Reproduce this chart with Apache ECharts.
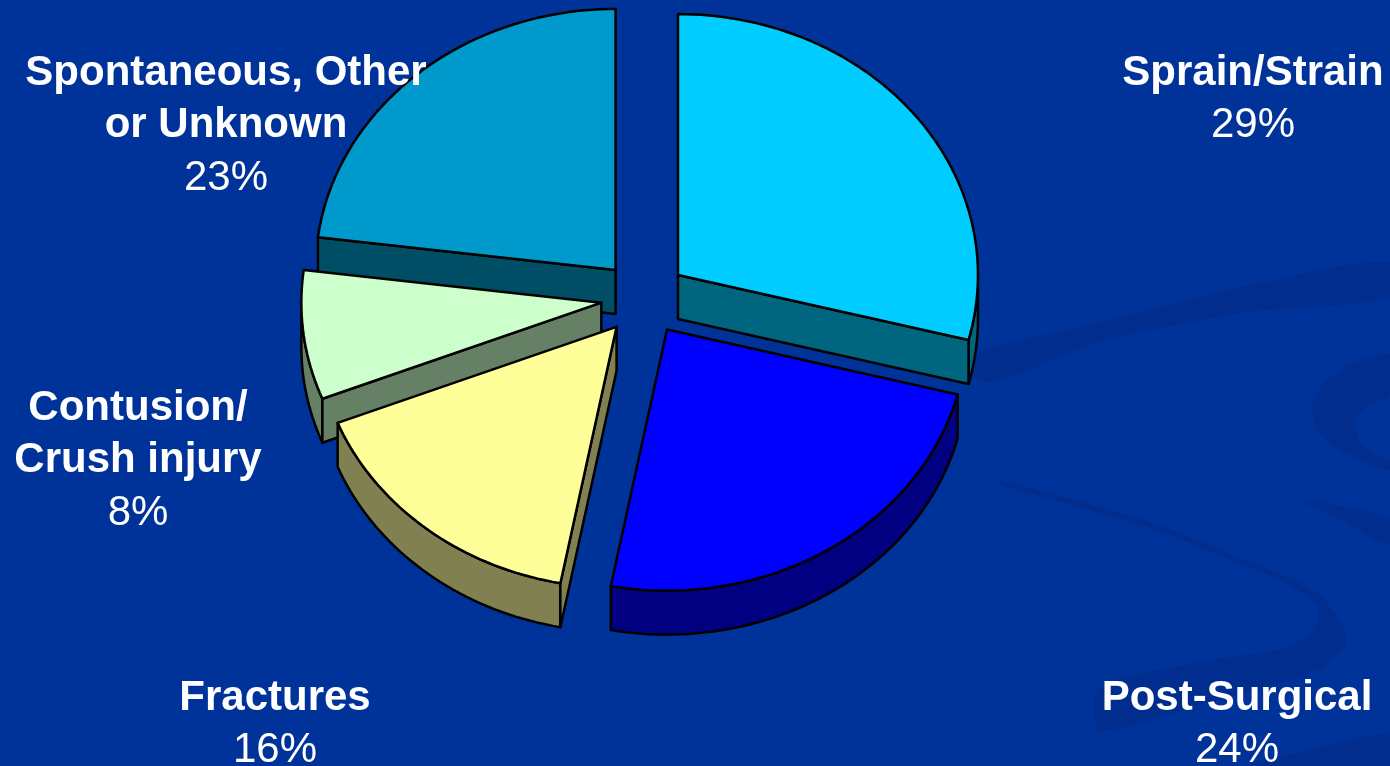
<!DOCTYPE html>
<html><head><meta charset="utf-8">
<script src="https://cdn.jsdelivr.net/npm/echarts@6/dist/echarts.min.js"></script>
<style>html,body{margin:0;padding:0;background:#003399;} #c{width:1390px;height:766px;}</style>
</head><body><div id="c"></div>
<script>
// ---- data ----
const categories = ['Sprain/Strain', 'Post-Surgical', 'Fractures', 'Contusion/\nCrush injury', 'Spontaneous, Other\nor Unknown'];
const values = [29, 24, 16, 8, 23];
const topColors = ['#00CCFF', '#0000FF', '#FFFF99', '#CCFFCC', '#0099CC'];
const sideColors = ['#006680', '#000080', '#808050', '#668066', '#004D66'];

// ---- layout ----
const CX = 644, CY = 298, RX = 300, RY = 261, DEPTH = 44, EXPLODE = 43;
const labelPos = [[1253, 85], [1237, 710], [275, 710], [138, 420], [226, 85]]; // first-line baseline
const LINE = 52.5, FS = 42, BASE_OFF = 12;
const FONT = '"Liberation Sans", Arial, sans-serif';

const total = values.reduce((a, b) => a + b, 0);

function renderItem(params, api) {
  const i = params.dataIndex;
  const v = api.value(0);
  let before = 0;
  for (let k = 0; k < i; k++) before += values[k];
  const a1 = before / total * 2 * Math.PI;
  const a2 = (before + v) / total * 2 * Math.PI;
  const mid = (a1 + a2) / 2;
  const vx = CX + EXPLODE * Math.sin(mid);
  const vy = CY - EXPLODE * (RY / RX) * Math.cos(mid);
  const P = t => [vx + RX * Math.sin(t), vy - RY * Math.cos(t)];
  const arc = (t1, t2) => {
    const n = Math.max(2, Math.ceil((t2 - t1) / (Math.PI / 120)));
    const out = [];
    for (let k = 0; k <= n; k++) out.push(P(t1 + (t2 - t1) * k / n));
    return out;
  };
  const down = p => [p[0], p[1] + DEPTH];
  const ls = { stroke: '#000', lineWidth: 2.5, lineJoin: 'round' };
  const base = Math.round(-Math.cos(mid) * 100) * 10 + 2000;
  const children = [];
  const w1 = Math.max(a1, Math.PI / 2), w2 = Math.min(a2, 1.5 * Math.PI);
  if (w2 > w1) {
    const t = arc(w1, w2);
    const b = t.map(down).reverse();
    children.push({ type: 'polygon', z2: base, shape: { points: t.concat(b) }, style: Object.assign({ fill: sideColors[i] }, ls) });
  }
  if (Math.sin(a1) < -1e-6) {
    const e = P(a1);
    children.push({ type: 'polygon', z2: base, shape: { points: [[vx, vy], e, down(e), [vx, vy + DEPTH]] }, style: Object.assign({ fill: sideColors[i] }, ls) });
  }
  if (Math.sin(a2) > 1e-6) {
    const e = P(a2);
    children.push({ type: 'polygon', z2: base, shape: { points: [[vx, vy], e, down(e), [vx, vy + DEPTH]] }, style: Object.assign({ fill: sideColors[i] }, ls) });
  }
  children.push({ type: 'polygon', z2: base + 1, shape: { points: [[vx, vy]].concat(arc(a1, a2)) }, style: Object.assign({ fill: topColors[i] }, ls) });
  return { type: 'group', children: children };
}

// background swooshes + labels
const graphics = [];
const swoosh = 'rgba(0,25,100,0.2)';
const swooshPts = [
  [[960, 360], [1100, 322], [1250, 285], [1390, 262], [1390, 297], [1250, 312], [1100, 342], [990, 382]],
  [[1390, 355], [1340, 370], [1313, 400], [1318, 432], [1350, 456], [1390, 470], [1390, 462], [1362, 445], [1356, 420], [1370, 404], [1390, 395]],
  [[1000, 480], [1150, 522], [1240, 558], [1317, 593], [1347, 637], [1333, 660], [1300, 677], [1200, 705], [1100, 730], [1100, 688], [1200, 662], [1287, 647], [1313, 630], [1318, 608], [1290, 585], [1240, 564], [1150, 528], [1000, 485]],
  [[1300, 500], [1350, 508], [1390, 520], [1390, 545], [1345, 522]],
  [[1250, 766], [1320, 748], [1390, 735], [1390, 766]]
];
swooshPts.forEach(p => graphics.push({ type: 'polygon', z: -10, shape: { points: p, smooth: 0.3 }, style: { fill: swoosh } }));

categories.forEach((name, i) => {
  const lines = name.split('\n');
  const [x, y0] = labelPos[i];
  lines.forEach((ln, k) => {
    graphics.push({ type: 'text', z: 10, x: x, y: y0 + k * LINE - BASE_OFF, style: { text: ln, fill: '#fff', font: 'bold ' + FS + 'px ' + FONT, align: 'center', verticalAlign: 'middle' } });
  });
  graphics.push({ type: 'text', z: 10, x: x, y: y0 + lines.length * LINE - BASE_OFF, style: { text: values[i] + '%', fill: '#fff', font: FS + 'px ' + FONT, align: 'center', verticalAlign: 'middle' } });
});

const chart = echarts.init(document.getElementById('c'), null, { renderer: 'canvas' });
chart.setOption({
  backgroundColor: '#003399',
  animation: false,
  graphic: graphics,
  series: [{
    type: 'custom',
    coordinateSystem: 'none',
    renderItem: renderItem,
    data: values.map(v => [v]),
    silent: true
  }]
});
</script></body></html>
